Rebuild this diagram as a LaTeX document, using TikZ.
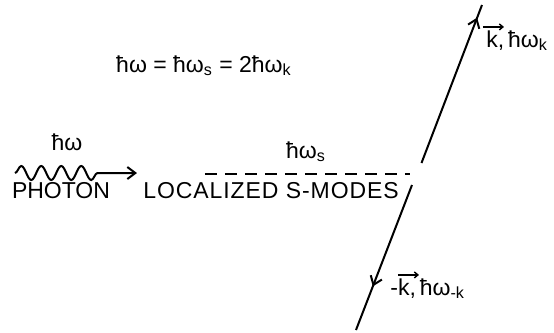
\documentclass[tikz,border=0pt]{standalone}
\usepackage{fontspec}
\setmainfont{Liberation Sans}
\usepackage{tikz}
\usetikzlibrary{arrows.meta,decorations.pathmorphing,decorations.markings}

\begin{document}
\begin{tikzpicture}[
  x=0.5pt,y=-0.5pt,
  txt/.style={inner sep=0pt,font=\fontsize{11.5}{13}\selectfont},
  arr/.style={line width=1pt},
  barb/.style={-{Straight Barb[length=4pt,width=6pt]}},
  vecbar/.style={line width=0.7pt,-{Straight Barb[length=1.8pt,width=3pt]}},
  midtip/.style={postaction={decorate},decoration={markings,mark=at position #1 with {\arrow{Straight Barb[length=4pt,width=6pt]}}}}
]
\useasboundingbox (0,0) rectangle (554,333);
\node[txt,anchor=base] (eq) at (204,72) {ħω = ħω\textsubscript{s} = 2ħω\textsubscript{k}};
\node[txt,anchor=base] (hw) at (67,150) {ħω};
\node[txt,anchor=base] (photon) at (61,198) {PHOTON};
\node[txt,anchor=base west] (modes) at (143,198) {\addfontfeature{LetterSpace=4}LOCALIZED S-MODES};
\node[txt,anchor=base] (hws) at (306,158) {ħω\textsubscript{s}};
\node[txt,anchor=base west] (kup) at (486,47) {k,\,ħω\textsubscript{k}};
\node[txt,anchor=base west] (kdn) at (390,295) {-k,\,ħω\textsubscript{-k}};
\coordinate (ws) at (15,173);
\coordinate (we) at (137,173);
\coordinate (da) at (205,174);
\coordinate (db) at (410,174);
\coordinate (kt) at (482,5);
\coordinate (ka) at (421.5,163);
\coordinate (kb) at (412,185);
\coordinate (kbot) at (356,330);
\draw[arr,barb,decorate,decoration={snake,segment length=10pt,amplitude=3.5pt,post length=19pt}] (ws) -- (we);
\draw[arr,dash pattern=on 6pt off 4pt] (da) -- (db);
\draw[arr,midtip=0.92] (ka) -- (kt);
\draw[arr,midtip=0.7] (kb) -- (kbot);
\draw[vecbar] ([shift={(-3,-3)}]kup.north west) -- ++(21,0);
\draw[vecbar] ([shift={(8,-3)}]kdn.north west) -- ++(21,0);
\end{tikzpicture}
\end{document}
